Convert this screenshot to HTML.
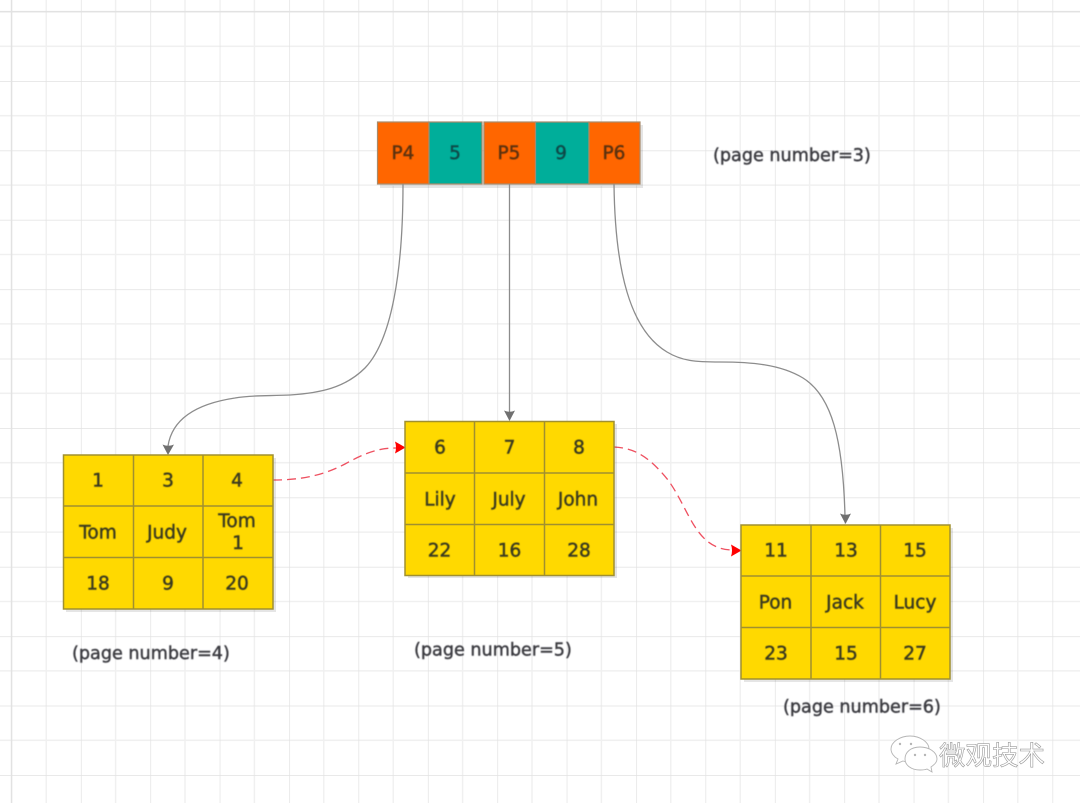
<!DOCTYPE html>
<html><head><meta charset="utf-8">
<style>
html,body{margin:0;padding:0;background:#fff;width:1080px;height:803px;overflow:hidden}
svg{display:block}
text{font-family:"DejaVu Sans","Liberation Sans",sans-serif;fill:#3a3a20;stroke:#3a3a20;stroke-width:.45;text-anchor:middle;font-size:18.5px}
.l{text-anchor:start;fill:#3c3c42;stroke:#3c3c42;font-size:17.6px}
</style></head><body>
<svg width="1080" height="803" viewBox="0 0 1080 803" xmlns="http://www.w3.org/2000/svg">
<defs>
<filter id="b" x="-5%" y="-5%" width="110%" height="110%"><feGaussianBlur stdDeviation="0.4"/></filter>
<filter id="c" x="-5%" y="-5%" width="110%" height="110%"><feGaussianBlur stdDeviation="0.3"/></filter>
<pattern id="g" x="11.5" y="11.6" width="69.4" height="69.4" patternUnits="userSpaceOnUse">
<path d="M34.7 0V69.4M0 34.7H69.4" stroke="#f0f0f0" stroke-width="1.4" fill="none"/>
<path d="M0 0V69.4M0 0H69.4" stroke="#e2e2e2" stroke-width="1.4" fill="none"/>
</pattern>
</defs>
<rect width="1080" height="803" fill="#fff"/>
<rect width="1080" height="803" fill="url(#g)"/>
<path d="M11.5 0V803M0 11.6H1080" stroke="#e2e2e2" stroke-width="1.4"/>

<!-- top node -->
<rect x="380" y="125" width="263" height="63" fill="#000" opacity=".1"/>
<g stroke="#a88a6a" stroke-width="1.2">
<rect x="377.5" y="122" width="51.5" height="62" fill="#ff6600"/>
<rect x="429" y="122" width="53" height="62" fill="#00ae9a"/>
<rect x="484" y="122" width="51.5" height="62" fill="#ff6600"/>
<rect x="535.5" y="122" width="53.5" height="62" fill="#00ae9a"/>
<rect x="589" y="122" width="51" height="62" fill="#ff6600"/>
</g>
<g filter="url(#b)">
<text x="403" y="159" style="fill:#5c3210;stroke:#5c3210">P4</text>
<text x="455" y="159" style="fill:#0c4a48;stroke:#0c4a48">5</text>
<text x="509" y="159" style="fill:#5c3210;stroke:#5c3210">P5</text>
<text x="561" y="159" style="fill:#0c4a48;stroke:#0c4a48">9</text>
<text x="614" y="159" style="fill:#5c3210;stroke:#5c3210">P6</text>
<text class="l" x="713" y="161">(page number=3)</text>
</g>

<!-- connectors -->
<g fill="none" stroke="#8c8c8c" stroke-width="1.3" filter="url(#c)">
<path d="M403 184C403 270 392 340 365 368C345 388 320 393 290 395C270 396 250 395 235 398C195 404 172 420 168 446"/>
<path d="M509.500 184V413"/>
<path d="M614 184C615 270 630 330 667 352C682 361 695 362 720 362C750 362 780 364 803 378C832 396 843 440 845 516"/>
</g>
<g fill="#707070">
<path d="M162.500 444.500Q168 447 174 444.500L168 455Z"/>
<path d="M504 410.500Q509.500 413 515 410.500L509.500 421Z"/>
<path d="M840 513.500Q845.500 516 851 513.500L845.500 524Z"/>
</g>
<g fill="none" stroke="#ee5060" stroke-width="1.3" stroke-dasharray="9 5">
<path d="M273 480C300 480 322 476 345 464C365 453 378 448 396 448"/>
<path d="M614 447C636 448 650 458 668 480C690 510 695 549 732 550"/>
</g>
<g fill="#ff0000">
<path d="M395 441.500L405.500 447.500L395 453.500Q397 447.500 395 441.500Z"/>
<path d="M731 544.500L741.500 550.500L731 556.500Q733 550.500 731 544.500Z"/>
</g>

<!-- table 1 -->
<rect x="66" y="458" width="210" height="154" fill="#000" opacity=".1"/>
<g fill="#ffd900" stroke="#a09030" stroke-width="1.5">
<rect x="63.500" y="455" width="209.500" height="154"/>
<path d="M133.500 455V609M203 455V609M63.500 506H273M63.500 557.500H273" fill="none"/>
</g>
<g filter="url(#b)">
<text x="98" y="486.500">1</text><text x="168" y="486.500">3</text><text x="237" y="486.500">4</text>
<text x="98" y="538.500">Tom</text><text x="167" y="538.500">Judy</text>
<text x="237" y="527">Tom</text><text x="238" y="549">1</text>
<text x="98" y="589.500">18</text><text x="168" y="589.500">9</text><text x="237" y="589.500">20</text>
<text class="l" x="72" y="659">(page number=4)</text>
</g>

<!-- table 2 -->
<rect x="408" y="424" width="209" height="154" fill="#000" opacity=".1"/>
<g fill="#ffd900" stroke="#a09030" stroke-width="1.5">
<rect x="405" y="421.500" width="209" height="154"/>
<path d="M474.500 421.500V575.500M544.500 421.500V575.500M405 473H614M405 524.500H614" fill="none"/>
</g>
<g filter="url(#b)">
<text x="440" y="453.500">6</text><text x="509.500" y="453.500">7</text><text x="579" y="453.500">8</text>
<text x="440" y="505.500">Lily</text><text x="509" y="505.500">July</text><text x="578" y="505.500">John</text>
<text x="439.500" y="556.500">22</text><text x="509.500" y="556.500">16</text><text x="579" y="556.500">28</text>
<text class="l" x="414" y="655.500">(page number=5)</text>
</g>

<!-- table 3 -->
<rect x="744" y="528" width="209" height="154" fill="#000" opacity=".1"/>
<g fill="#ffd900" stroke="#a09030" stroke-width="1.5">
<rect x="741" y="525" width="209" height="154"/>
<path d="M811 525V679M880.500 525V679M741 576H950M741 627.500H950" fill="none"/>
</g>
<g filter="url(#b)">
<text x="776" y="556.500">11</text><text x="846" y="556.500">13</text><text x="915" y="556.500">15</text>
<text x="775.500" y="608.500">Pon</text><text x="845" y="608.500">Jack</text><text x="915" y="608.500">Lucy</text>
<text x="776" y="659.500">23</text><text x="846" y="659.500">15</text><text x="915" y="659.500">27</text>
<text class="l" x="783" y="712.500">(page number=6)</text>
</g>

<!-- watermark -->
<g fill="#fff" stroke="#b5b5b5" stroke-width=".9">
<path d="M910 736C900 736 891 742 891 749C891 753 894 757 898 759L896 764L903 761C906 762 909 762 912 762C921 762 929 756 929 749C929 742 920 736 910 736Z"/>
<path d="M920 747C911 747 905 752 905 759C905 765 911 770 920 770C922 770 925 770 927 769L932 772L931 767C935 764 937 762 937 759C937 752 929 747 920 747Z"/>
</g>
<g fill="#b5b5b5"><circle cx="900" cy="744" r="1.2"/><circle cx="911" cy="744" r="1.2"/><circle cx="915" cy="755" r="1.2"/><circle cx="925" cy="755" r="1.2"/></g>
<text x="992" y="765" style="font-family:'Noto Sans CJK SC','WenQuanYi Zen Hei',sans-serif;font-size:26.500px;fill:#fff;stroke:#999;stroke-width:.6">微观技术</text>
</svg>
</body></html>
